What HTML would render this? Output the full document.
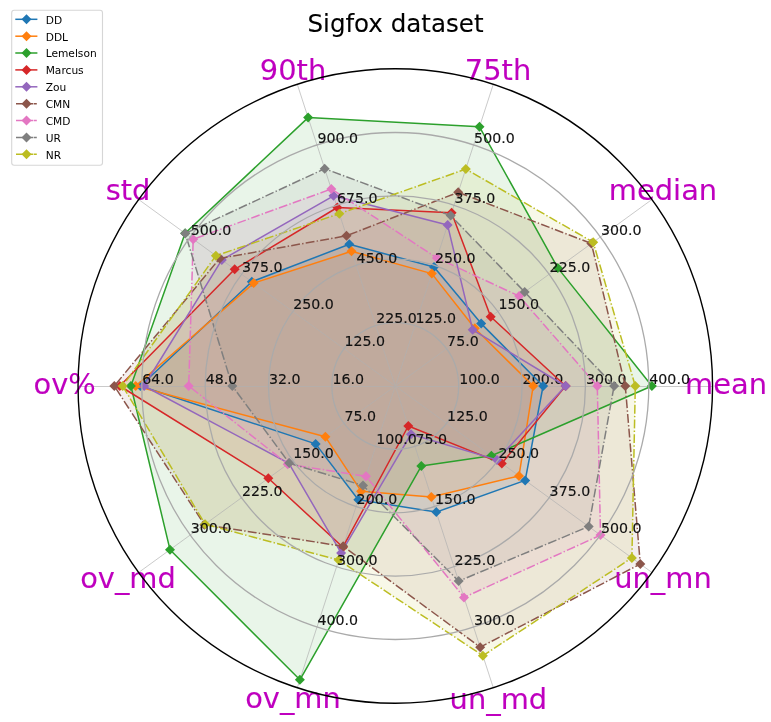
<!DOCTYPE html>
<html><head><meta charset="utf-8"><title>Sigfox dataset</title>
<style>html,body{margin:0;padding:0;background:#fff}svg{display:block}</style></head>
<body>
<svg width="771" height="722" viewBox="0 0 771 722" font-family="'DejaVu Sans', 'Liberation Sans', sans-serif">
<rect width="771" height="722" fill="#fff"/>
<polygon points="543.1,386.0 481.2,323.6 434.0,267.0 349.3,244.3 251.8,281.7 140.3,386.0 315.6,443.9 358.3,499.8 436.3,512.1 525.2,480.4" fill="#1f77b4" fill-opacity="0.1"/>
<polygon points="533.2,386.0 474.8,328.3 431.8,273.6 351.5,251.3 253.7,283.1 135.7,386.0 325.4,436.8 361.1,491.2 431.3,496.9 519.0,475.9" fill="#ff7f0e" fill-opacity="0.1"/>
<polygon points="651.9,386.0 557.8,267.9 479.5,126.8 308.1,117.6 185.1,233.3 130.9,386.0 170.0,549.7 299.9,679.8 421.3,466.1 491.4,455.8" fill="#2ca02c" fill-opacity="0.1"/>
<polygon points="565.6,386.0 490.7,316.7 451.6,212.8 337.3,207.5 234.7,269.3 119.8,386.0 268.3,478.3 342.9,547.2 408.3,426.0 501.8,463.4" fill="#d62728" fill-opacity="0.1"/>
<polygon points="565.6,386.0 472.7,329.8 447.6,225.1 333.5,195.8 221.8,259.9 144.1,386.0 288.9,463.3 341.1,552.9 411.0,434.2 497.0,459.9" fill="#9467bd" fill-opacity="0.1"/>
<polygon points="625.3,386.0 591.4,243.5 458.2,192.3 346.5,235.8 219.7,258.4 114.3,386.0 204.4,524.7 343.2,546.3 480.2,647.2 640.3,564.0" fill="#8c564b" fill-opacity="0.1"/>
<polygon points="597.3,386.0 519.1,296.1 436.9,257.9 331.3,189.0 193.2,239.2 188.7,386.0 287.7,464.2 366.0,476.3 464.0,597.4 600.5,535.1" fill="#e377c2" fill-opacity="0.1"/>
<polygon points="614.1,386.0 524.7,292.0 450.7,215.6 324.7,168.7 185.2,233.4 232.3,386.0 289.2,463.1 363.0,485.5 458.7,581.1 588.7,526.5" fill="#7f7f7f" fill-opacity="0.1"/>
<polygon points="635.3,386.0 593.2,242.2 465.8,169.1 339.3,213.7 215.9,255.7 122.7,386.0 205.1,524.2 338.7,560.1 482.9,655.7 631.9,557.9" fill="#bcbd22" fill-opacity="0.1"/>
<g stroke="#b0b0b0" stroke-width="0.9" fill="none" opacity="0.75">
<line x1="395.3" y1="386.5" x2="712.2" y2="386.5"/>
<line x1="395.3" y1="386.0" x2="651.7" y2="199.7"/>
<line x1="395.3" y1="386.0" x2="493.2" y2="84.6"/>
<line x1="395.3" y1="386.0" x2="297.4" y2="84.6"/>
<line x1="395.3" y1="386.0" x2="138.9" y2="199.7"/>
<line x1="395.3" y1="386.5" x2="78.4" y2="386.5"/>
<line x1="395.3" y1="386.0" x2="138.9" y2="572.3"/>
<line x1="395.3" y1="386.0" x2="297.4" y2="687.4"/>
<line x1="395.3" y1="386.0" x2="493.2" y2="687.4"/>
<line x1="395.3" y1="386.0" x2="651.7" y2="572.3"/>
</g>
<g font-size="28.9" fill="#bf00bf" text-anchor="middle" stroke="#bf00bf" stroke-width="0.12">
<text x="726" y="394.4">mean</text>
<text x="663" y="200.2">median</text>
<text x="498" y="80.2">75th</text>
<text x="293" y="80.2">90th</text>
<text x="128" y="200.2">std</text>
<text x="64.7" y="394.4">ov%</text>
<text x="128" y="588.3">ov_md</text>
<text x="293" y="708.2">ov_mn</text>
<text x="498.4" y="708.6">un_md</text>
<text x="663" y="588.3">un_mn</text>
</g>
<g font-size="14.2" fill="#111" stroke="#111" stroke-width="0.15">
<text transform="translate(459.2 383.7) scale(1 1.05)">100.0</text>
<text transform="translate(522.6 383.7) scale(1 1.05)">200.0</text>
<text transform="translate(585.9 383.7) scale(1 1.05)">300.0</text>
<text transform="translate(649.3 383.7) scale(1 1.05)">400.0</text>
</g>
<polyline points="543.1,386.0 481.2,323.6 434.0,267.0 349.3,244.3 251.8,281.7 140.3,386.0 315.6,443.9 358.3,499.8 436.3,512.1 525.2,480.4 543.1,386.0" fill="none" stroke="#1f77b4" stroke-width="1.5" stroke-linejoin="round"/>
<path d="M543.1 381.0L548.1 386.0L543.1 391.0L538.1 386.0Z" fill="#1f77b4"/>
<path d="M481.2 318.6L486.2 323.6L481.2 328.6L476.2 323.6Z" fill="#1f77b4"/>
<path d="M434.0 262.0L439.0 267.0L434.0 272.0L429.0 267.0Z" fill="#1f77b4"/>
<path d="M349.3 239.3L354.3 244.3L349.3 249.3L344.3 244.3Z" fill="#1f77b4"/>
<path d="M251.8 276.7L256.8 281.7L251.8 286.7L246.8 281.7Z" fill="#1f77b4"/>
<path d="M140.3 381.0L145.3 386.0L140.3 391.0L135.3 386.0Z" fill="#1f77b4"/>
<path d="M315.6 438.9L320.6 443.9L315.6 448.9L310.6 443.9Z" fill="#1f77b4"/>
<path d="M358.3 494.8L363.3 499.8L358.3 504.8L353.3 499.8Z" fill="#1f77b4"/>
<path d="M436.3 507.1L441.3 512.1L436.3 517.1L431.3 512.1Z" fill="#1f77b4"/>
<path d="M525.2 475.4L530.2 480.4L525.2 485.4L520.2 480.4Z" fill="#1f77b4"/>
<polyline points="533.2,386.0 474.8,328.3 431.8,273.6 351.5,251.3 253.7,283.1 135.7,386.0 325.4,436.8 361.1,491.2 431.3,496.9 519.0,475.9 533.2,386.0" fill="none" stroke="#ff7f0e" stroke-width="1.5" stroke-linejoin="round"/>
<path d="M533.2 381.0L538.2 386.0L533.2 391.0L528.2 386.0Z" fill="#ff7f0e"/>
<path d="M474.8 323.3L479.8 328.3L474.8 333.3L469.8 328.3Z" fill="#ff7f0e"/>
<path d="M431.8 268.6L436.8 273.6L431.8 278.6L426.8 273.6Z" fill="#ff7f0e"/>
<path d="M351.5 246.3L356.5 251.3L351.5 256.3L346.5 251.3Z" fill="#ff7f0e"/>
<path d="M253.7 278.1L258.7 283.1L253.7 288.1L248.7 283.1Z" fill="#ff7f0e"/>
<path d="M135.7 381.0L140.7 386.0L135.7 391.0L130.7 386.0Z" fill="#ff7f0e"/>
<path d="M325.4 431.8L330.4 436.8L325.4 441.8L320.4 436.8Z" fill="#ff7f0e"/>
<path d="M361.1 486.2L366.1 491.2L361.1 496.2L356.1 491.2Z" fill="#ff7f0e"/>
<path d="M431.3 491.9L436.3 496.9L431.3 501.9L426.3 496.9Z" fill="#ff7f0e"/>
<path d="M519.0 470.9L524.0 475.9L519.0 480.9L514.0 475.9Z" fill="#ff7f0e"/>
<polyline points="651.9,386.0 557.8,267.9 479.5,126.8 308.1,117.6 185.1,233.3 130.9,386.0 170.0,549.7 299.9,679.8 421.3,466.1 491.4,455.8 651.9,386.0" fill="none" stroke="#2ca02c" stroke-width="1.5" stroke-linejoin="round"/>
<path d="M651.9 381.0L656.9 386.0L651.9 391.0L646.9 386.0Z" fill="#2ca02c"/>
<path d="M557.8 262.9L562.8 267.9L557.8 272.9L552.8 267.9Z" fill="#2ca02c"/>
<path d="M479.5 121.8L484.5 126.8L479.5 131.8L474.5 126.8Z" fill="#2ca02c"/>
<path d="M308.1 112.6L313.1 117.6L308.1 122.6L303.1 117.6Z" fill="#2ca02c"/>
<path d="M185.1 228.3L190.1 233.3L185.1 238.3L180.1 233.3Z" fill="#2ca02c"/>
<path d="M130.9 381.0L135.9 386.0L130.9 391.0L125.9 386.0Z" fill="#2ca02c"/>
<path d="M170.0 544.7L175.0 549.7L170.0 554.7L165.0 549.7Z" fill="#2ca02c"/>
<path d="M299.9 674.8L304.9 679.8L299.9 684.8L294.9 679.8Z" fill="#2ca02c"/>
<path d="M421.3 461.1L426.3 466.1L421.3 471.1L416.3 466.1Z" fill="#2ca02c"/>
<path d="M491.4 450.8L496.4 455.8L491.4 460.8L486.4 455.8Z" fill="#2ca02c"/>
<polyline points="565.6,386.0 490.7,316.7 451.6,212.8 337.3,207.5 234.7,269.3 119.8,386.0 268.3,478.3 342.9,547.2 408.3,426.0 501.8,463.4 565.6,386.0" fill="none" stroke="#d62728" stroke-width="1.5" stroke-linejoin="round"/>
<path d="M565.6 381.0L570.6 386.0L565.6 391.0L560.6 386.0Z" fill="#d62728"/>
<path d="M490.7 311.7L495.7 316.7L490.7 321.7L485.7 316.7Z" fill="#d62728"/>
<path d="M451.6 207.8L456.6 212.8L451.6 217.8L446.6 212.8Z" fill="#d62728"/>
<path d="M337.3 202.5L342.3 207.5L337.3 212.5L332.3 207.5Z" fill="#d62728"/>
<path d="M234.7 264.3L239.7 269.3L234.7 274.3L229.7 269.3Z" fill="#d62728"/>
<path d="M119.8 381.0L124.8 386.0L119.8 391.0L114.8 386.0Z" fill="#d62728"/>
<path d="M268.3 473.3L273.3 478.3L268.3 483.3L263.3 478.3Z" fill="#d62728"/>
<path d="M342.9 542.2L347.9 547.2L342.9 552.2L337.9 547.2Z" fill="#d62728"/>
<path d="M408.3 421.0L413.3 426.0L408.3 431.0L403.3 426.0Z" fill="#d62728"/>
<path d="M501.8 458.4L506.8 463.4L501.8 468.4L496.8 463.4Z" fill="#d62728"/>
<polyline points="565.6,386.0 472.7,329.8 447.6,225.1 333.5,195.8 221.8,259.9 144.1,386.0 288.9,463.3 341.1,552.9 411.0,434.2 497.0,459.9 565.6,386.0" fill="none" stroke="#9467bd" stroke-width="1.5" stroke-linejoin="round"/>
<path d="M565.6 381.0L570.6 386.0L565.6 391.0L560.6 386.0Z" fill="#9467bd"/>
<path d="M472.7 324.8L477.7 329.8L472.7 334.8L467.7 329.8Z" fill="#9467bd"/>
<path d="M447.6 220.1L452.6 225.1L447.6 230.1L442.6 225.1Z" fill="#9467bd"/>
<path d="M333.5 190.8L338.5 195.8L333.5 200.8L328.5 195.8Z" fill="#9467bd"/>
<path d="M221.8 254.9L226.8 259.9L221.8 264.9L216.8 259.9Z" fill="#9467bd"/>
<path d="M144.1 381.0L149.1 386.0L144.1 391.0L139.1 386.0Z" fill="#9467bd"/>
<path d="M288.9 458.3L293.9 463.3L288.9 468.3L283.9 463.3Z" fill="#9467bd"/>
<path d="M341.1 547.9L346.1 552.9L341.1 557.9L336.1 552.9Z" fill="#9467bd"/>
<path d="M411.0 429.2L416.0 434.2L411.0 439.2L406.0 434.2Z" fill="#9467bd"/>
<path d="M497.0 454.9L502.0 459.9L497.0 464.9L492.0 459.9Z" fill="#9467bd"/>
<polyline points="625.3,386.0 591.4,243.5 458.2,192.3 346.5,235.8 219.7,258.4 114.3,386.0 204.4,524.7 343.2,546.3 480.2,647.2 640.3,564.0 625.3,386.0" fill="none" stroke="#8c564b" stroke-width="1.5" stroke-linejoin="round" stroke-dasharray="8.89 2.22 1.39 2.22"/>
<path d="M625.3 381.0L630.3 386.0L625.3 391.0L620.3 386.0Z" fill="#8c564b"/>
<path d="M591.4 238.5L596.4 243.5L591.4 248.5L586.4 243.5Z" fill="#8c564b"/>
<path d="M458.2 187.3L463.2 192.3L458.2 197.3L453.2 192.3Z" fill="#8c564b"/>
<path d="M346.5 230.8L351.5 235.8L346.5 240.8L341.5 235.8Z" fill="#8c564b"/>
<path d="M219.7 253.4L224.7 258.4L219.7 263.4L214.7 258.4Z" fill="#8c564b"/>
<path d="M114.3 381.0L119.3 386.0L114.3 391.0L109.3 386.0Z" fill="#8c564b"/>
<path d="M204.4 519.7L209.4 524.7L204.4 529.7L199.4 524.7Z" fill="#8c564b"/>
<path d="M343.2 541.3L348.2 546.3L343.2 551.3L338.2 546.3Z" fill="#8c564b"/>
<path d="M480.2 642.2L485.2 647.2L480.2 652.2L475.2 647.2Z" fill="#8c564b"/>
<path d="M640.3 559.0L645.3 564.0L640.3 569.0L635.3 564.0Z" fill="#8c564b"/>
<polyline points="597.3,386.0 519.1,296.1 436.9,257.9 331.3,189.0 193.2,239.2 188.7,386.0 287.7,464.2 366.0,476.3 464.0,597.4 600.5,535.1 597.3,386.0" fill="none" stroke="#e377c2" stroke-width="1.5" stroke-linejoin="round" stroke-dasharray="8.89 2.22 1.39 2.22"/>
<path d="M597.3 381.0L602.3 386.0L597.3 391.0L592.3 386.0Z" fill="#e377c2"/>
<path d="M519.1 291.1L524.1 296.1L519.1 301.1L514.1 296.1Z" fill="#e377c2"/>
<path d="M436.9 252.9L441.9 257.9L436.9 262.9L431.9 257.9Z" fill="#e377c2"/>
<path d="M331.3 184.0L336.3 189.0L331.3 194.0L326.3 189.0Z" fill="#e377c2"/>
<path d="M193.2 234.2L198.2 239.2L193.2 244.2L188.2 239.2Z" fill="#e377c2"/>
<path d="M188.7 381.0L193.7 386.0L188.7 391.0L183.7 386.0Z" fill="#e377c2"/>
<path d="M287.7 459.2L292.7 464.2L287.7 469.2L282.7 464.2Z" fill="#e377c2"/>
<path d="M366.0 471.3L371.0 476.3L366.0 481.3L361.0 476.3Z" fill="#e377c2"/>
<path d="M464.0 592.4L469.0 597.4L464.0 602.4L459.0 597.4Z" fill="#e377c2"/>
<path d="M600.5 530.1L605.5 535.1L600.5 540.1L595.5 535.1Z" fill="#e377c2"/>
<polyline points="614.1,386.0 524.7,292.0 450.7,215.6 324.7,168.7 185.2,233.4 232.3,386.0 289.2,463.1 363.0,485.5 458.7,581.1 588.7,526.5 614.1,386.0" fill="none" stroke="#7f7f7f" stroke-width="1.5" stroke-linejoin="round" stroke-dasharray="8.89 2.22 1.39 2.22"/>
<path d="M614.1 381.0L619.1 386.0L614.1 391.0L609.1 386.0Z" fill="#7f7f7f"/>
<path d="M524.7 287.0L529.7 292.0L524.7 297.0L519.7 292.0Z" fill="#7f7f7f"/>
<path d="M450.7 210.6L455.7 215.6L450.7 220.6L445.7 215.6Z" fill="#7f7f7f"/>
<path d="M324.7 163.7L329.7 168.7L324.7 173.7L319.7 168.7Z" fill="#7f7f7f"/>
<path d="M185.2 228.4L190.2 233.4L185.2 238.4L180.2 233.4Z" fill="#7f7f7f"/>
<path d="M232.3 381.0L237.3 386.0L232.3 391.0L227.3 386.0Z" fill="#7f7f7f"/>
<path d="M289.2 458.1L294.2 463.1L289.2 468.1L284.2 463.1Z" fill="#7f7f7f"/>
<path d="M363.0 480.5L368.0 485.5L363.0 490.5L358.0 485.5Z" fill="#7f7f7f"/>
<path d="M458.7 576.1L463.7 581.1L458.7 586.1L453.7 581.1Z" fill="#7f7f7f"/>
<path d="M588.7 521.5L593.7 526.5L588.7 531.5L583.7 526.5Z" fill="#7f7f7f"/>
<polyline points="635.3,386.0 593.2,242.2 465.8,169.1 339.3,213.7 215.9,255.7 122.7,386.0 205.1,524.2 338.7,560.1 482.9,655.7 631.9,557.9 635.3,386.0" fill="none" stroke="#bcbd22" stroke-width="1.5" stroke-linejoin="round" stroke-dasharray="8.89 2.22 1.39 2.22"/>
<path d="M635.3 381.0L640.3 386.0L635.3 391.0L630.3 386.0Z" fill="#bcbd22"/>
<path d="M593.2 237.2L598.2 242.2L593.2 247.2L588.2 242.2Z" fill="#bcbd22"/>
<path d="M465.8 164.1L470.8 169.1L465.8 174.1L460.8 169.1Z" fill="#bcbd22"/>
<path d="M339.3 208.7L344.3 213.7L339.3 218.7L334.3 213.7Z" fill="#bcbd22"/>
<path d="M215.9 250.7L220.9 255.7L215.9 260.7L210.9 255.7Z" fill="#bcbd22"/>
<path d="M122.7 381.0L127.7 386.0L122.7 391.0L117.7 386.0Z" fill="#bcbd22"/>
<path d="M205.1 519.2L210.1 524.2L205.1 529.2L200.1 524.2Z" fill="#bcbd22"/>
<path d="M338.7 555.1L343.7 560.1L338.7 565.1L333.7 560.1Z" fill="#bcbd22"/>
<path d="M482.9 650.7L487.9 655.7L482.9 660.7L477.9 655.7Z" fill="#bcbd22"/>
<path d="M631.9 552.9L636.9 557.9L631.9 562.9L626.9 557.9Z" fill="#bcbd22"/>
<g stroke="#aaaaaa" stroke-width="1.3" fill="none">
<circle cx="395.3" cy="386.0" r="63.4"/>
<circle cx="395.3" cy="386.0" r="126.8"/>
<circle cx="395.3" cy="386.0" r="190.1"/>
<circle cx="395.3" cy="386.0" r="253.5"/>
</g>
<g font-size="14.2" fill="#111" stroke="#111" stroke-width="0.15">
<text transform="translate(447.1 346.4) scale(1 1.05)">75.0</text>
<text transform="translate(498.4 309.2) scale(1 1.05)">150.0</text>
<text transform="translate(549.6 271.9) scale(1 1.05)">225.0</text>
<text transform="translate(600.9 234.7) scale(1 1.05)">300.0</text>
<text transform="translate(415.4 323.4) scale(1 1.05)">125.0</text>
<text transform="translate(435.0 263.1) scale(1 1.05)">250.0</text>
<text transform="translate(454.6 202.9) scale(1 1.05)">375.0</text>
<text transform="translate(474.1 142.6) scale(1 1.05)">500.0</text>
<text transform="translate(376.2 323.4) scale(1 1.05)">225.0</text>
<text transform="translate(356.6 263.1) scale(1 1.05)">450.0</text>
<text transform="translate(337.0 202.9) scale(1 1.05)">675.0</text>
<text transform="translate(317.5 142.6) scale(1 1.05)">900.0</text>
<text transform="translate(344.5 346.4) scale(1 1.05)">125.0</text>
<text transform="translate(293.2 309.2) scale(1 1.05)">250.0</text>
<text transform="translate(242.0 271.9) scale(1 1.05)">375.0</text>
<text transform="translate(190.7 234.7) scale(1 1.05)">500.0</text>
<text transform="translate(332.4 383.7) scale(1 1.05)">16.0</text>
<text transform="translate(269.0 383.7) scale(1 1.05)">32.0</text>
<text transform="translate(205.7 383.7) scale(1 1.05)">48.0</text>
<text transform="translate(142.3 383.7) scale(1 1.05)">64.0</text>
<text transform="translate(344.5 421.0) scale(1 1.05)">75.0</text>
<text transform="translate(293.2 458.2) scale(1 1.05)">150.0</text>
<text transform="translate(242.0 495.5) scale(1 1.05)">225.0</text>
<text transform="translate(190.7 532.7) scale(1 1.05)">300.0</text>
<text transform="translate(376.2 444.0) scale(1 1.05)">100.0</text>
<text transform="translate(356.6 504.3) scale(1 1.05)">200.0</text>
<text transform="translate(337.0 564.5) scale(1 1.05)">300.0</text>
<text transform="translate(317.5 624.8) scale(1 1.05)">400.0</text>
<text transform="translate(415.4 444.0) scale(1 1.05)">75.0</text>
<text transform="translate(435.0 504.3) scale(1 1.05)">150.0</text>
<text transform="translate(454.6 564.5) scale(1 1.05)">225.0</text>
<text transform="translate(474.1 624.8) scale(1 1.05)">300.0</text>
<text transform="translate(447.1 421.0) scale(1 1.05)">125.0</text>
<text transform="translate(498.4 458.2) scale(1 1.05)">250.0</text>
<text transform="translate(549.6 495.5) scale(1 1.05)">375.0</text>
<text transform="translate(600.9 532.7) scale(1 1.05)">500.0</text>
</g>
<circle cx="395.3" cy="386.0" r="317.25" fill="none" stroke="#000" stroke-width="1.4"/>
<text x="395.5" y="31.6" font-size="24.55" text-anchor="middle" fill="#000" stroke="#000" stroke-width="0.1">Sigfox dataset</text>
<rect x="11.7" y="10.3" width="90.8" height="154.9" rx="2.5" ry="2.5" fill="#fff" fill-opacity="0.8" stroke="#ccc" stroke-opacity="0.8" stroke-width="1.1"/>
<line x1="15.3" y1="19.3" x2="37.4" y2="19.3" stroke="#1f77b4" stroke-width="1.5"/>
<path d="M26.5 14.3L31.5 19.3L26.5 24.3L21.5 19.3Z" fill="#1f77b4"/>
<text x="45.7" y="23.6" font-size="10.65" fill="#000">DD</text>
<line x1="15.3" y1="36.2" x2="37.4" y2="36.2" stroke="#ff7f0e" stroke-width="1.5"/>
<path d="M26.5 31.2L31.5 36.2L26.5 41.2L21.5 36.2Z" fill="#ff7f0e"/>
<text x="45.7" y="40.5" font-size="10.65" fill="#000">DDL</text>
<line x1="15.3" y1="53.0" x2="37.4" y2="53.0" stroke="#2ca02c" stroke-width="1.5"/>
<path d="M26.5 48.0L31.5 53.0L26.5 58.0L21.5 53.0Z" fill="#2ca02c"/>
<text x="45.7" y="57.3" font-size="10.65" fill="#000">Lemelson</text>
<line x1="15.3" y1="69.9" x2="37.4" y2="69.9" stroke="#d62728" stroke-width="1.5"/>
<path d="M26.5 64.9L31.5 69.9L26.5 74.9L21.5 69.9Z" fill="#d62728"/>
<text x="45.7" y="74.2" font-size="10.65" fill="#000">Marcus</text>
<line x1="15.3" y1="86.8" x2="37.4" y2="86.8" stroke="#9467bd" stroke-width="1.5"/>
<path d="M26.5 81.8L31.5 86.8L26.5 91.8L21.5 86.8Z" fill="#9467bd"/>
<text x="45.7" y="91.1" font-size="10.65" fill="#000">Zou</text>
<path d="M16 103.7H33.3M33.9 103.7H36.8" stroke="#8c564b" stroke-width="1.5" fill="none"/>
<path d="M26.5 98.7L31.5 103.7L26.5 108.7L21.5 103.7Z" fill="#8c564b"/>
<text x="45.7" y="108.0" font-size="10.65" fill="#000">CMN</text>
<path d="M16 120.5H33.3M33.9 120.5H36.8" stroke="#e377c2" stroke-width="1.5" fill="none"/>
<path d="M26.5 115.5L31.5 120.5L26.5 125.5L21.5 120.5Z" fill="#e377c2"/>
<text x="45.7" y="124.8" font-size="10.65" fill="#000">CMD</text>
<path d="M16 137.4H33.3M33.9 137.4H36.8" stroke="#7f7f7f" stroke-width="1.5" fill="none"/>
<path d="M26.5 132.4L31.5 137.4L26.5 142.4L21.5 137.4Z" fill="#7f7f7f"/>
<text x="45.7" y="141.7" font-size="10.65" fill="#000">UR</text>
<path d="M16 154.3H33.3M33.9 154.3H36.8" stroke="#bcbd22" stroke-width="1.5" fill="none"/>
<path d="M26.5 149.3L31.5 154.3L26.5 159.3L21.5 154.3Z" fill="#bcbd22"/>
<text x="45.7" y="158.6" font-size="10.65" fill="#000">NR</text>
</svg>
</body></html>
